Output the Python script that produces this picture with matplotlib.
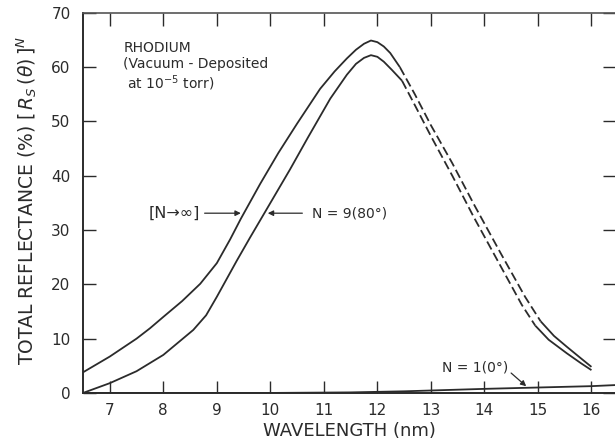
import numpy as np
import matplotlib.pyplot as plt

# ---- data (wavelength nm, reflectance %) ----
# N -> infinity (upper curve)
inf_x_solid = [6.5, 7.0, 7.5, 7.75, 8.0, 8.35, 8.69, 9.0, 9.25, 9.45, 9.81, 10.15, 10.5, 10.93,
               11.2, 11.43, 11.6, 11.75, 11.88, 12.0, 12.12, 12.24, 12.42]
inf_y_solid = [3.8, 6.7, 10.0, 11.9, 14.0, 16.9, 20.1, 23.9, 28.3, 32.1, 38.5, 44.2, 49.6, 56.0,
               59.2, 61.6, 63.2, 64.3, 64.9, 64.6, 63.8, 62.6, 60.0]
inf_x_dash = [12.42, 12.7, 13.0, 13.4, 13.8, 14.3, 14.76, 15.05]
inf_y_dash = [60.0, 55.0, 49.3, 42.3, 34.8, 25.8, 17.7, 13.2]
inf_x_tail = [15.05, 15.3, 15.54, 15.8, 16.0]
inf_y_tail = [13.2, 10.5, 8.5, 6.4, 4.8]

# N = 9 (80 deg) (lower curve)
n9_x_solid = [6.5, 7.0, 7.5, 8.0, 8.56, 8.8, 9.0, 9.37, 9.62, 9.9, 10.37, 10.7, 11.12,
              11.43, 11.6, 11.75, 11.88, 12.0, 12.12, 12.27, 12.46]
n9_y_solid = [0.0, 1.8, 4.0, 7.0, 11.6, 14.3, 17.7, 24.3, 28.6, 33.3, 41.2, 47.0, 54.2,
              58.6, 60.6, 61.7, 62.2, 61.9, 61.0, 59.5, 57.5]
n9_x_dash = [12.46, 12.7, 13.0, 13.4, 13.8, 14.3, 14.7, 14.95]
n9_y_dash = [57.5, 53.0, 47.3, 40.0, 32.4, 23.4, 16.2, 12.4]
n9_x_tail = [14.95, 15.2, 15.54, 15.8, 16.0]
n9_y_tail = [12.4, 9.8, 7.3, 5.5, 4.2]

# N = 1 (0 deg)
n1_x = [6.5, 10.0, 11.5, 12.5, 13.0, 14.0, 15.0, 16.0, 16.45]
n1_y = [0.0, 0.0, 0.1, 0.3, 0.45, 0.75, 1.0, 1.25, 1.45]

x_ticks = [7, 8, 9, 10, 11, 12, 13, 14, 15, 16]
y_ticks = [0, 10, 20, 30, 40, 50, 60, 70]

INK = "#2b2b2b"
LW = 1.3

fig = plt.figure(figsize=(6.15, 4.42), dpi=100)
ax = fig.add_axes([0.135, 0.111, 0.865, 0.860])

for xs, ys in [(inf_x_solid, inf_y_solid), (inf_x_tail, inf_y_tail),
               (n9_x_solid, n9_y_solid), (n9_x_tail, n9_y_tail), (n1_x, n1_y)]:
    ax.plot(xs, ys, color=INK, lw=LW, solid_capstyle="butt", solid_joinstyle="round")
for xs, ys in [(inf_x_dash, inf_y_dash), (n9_x_dash, n9_y_dash)]:
    ax.plot(xs, ys, color=INK, lw=LW, dashes=(5, 2.2))

ax.set_xlim(6.5, 16.44)
ax.set_ylim(0, 70)
ax.set_xticks(x_ticks)
ax.set_yticks(y_ticks)
ax.tick_params(axis="both", direction="in", length=9, width=1.0, color=INK,
               labelcolor=INK, labelsize=11, top=True, right=True)
ax.tick_params(axis="y", pad=9)
ax.tick_params(axis="x", pad=7)
for side in ["left", "bottom"]:
    ax.spines[side].set_linewidth(1.4)
    ax.spines[side].set_color(INK)
ax.spines["top"].set_linewidth(1.2)
ax.spines["top"].set_color("#555555")
ax.spines["right"].set_visible(False)

ax.set_xlabel("WAVELENGTH (nm)", fontsize=13, color=INK, labelpad=3)
ax.set_ylabel(r"TOTAL REFLECTANCE (%) $\left[\,R_S\,(\theta)\,\right]^N$", fontsize=13.5, color=INK)
ax.yaxis.set_label_coords(-0.083, 0.505)

ax.text(7.25, 64.8, "RHODIUM\n(Vacuum - Deposited\n at $\\mathregular{10^{-5}}$ torr)",
        fontsize=10, color=INK, va="top", ha="left", linespacing=1.15)

ax.annotate("", xy=(9.5, 33.1), xytext=(8.72, 33.1),
            arrowprops=dict(arrowstyle="-|>", color=INK, lw=0.9, mutation_scale=8))
ax.text(8.69, 33.1, "[N→∞]", fontsize=11.5, color=INK, ha="right", va="center")
ax.annotate("", xy=(9.9, 33.1), xytext=(10.65, 33.1),
            arrowprops=dict(arrowstyle="-|>", color=INK, lw=0.9, mutation_scale=8))
ax.text(10.78, 33.1, "N = 9(80°)", fontsize=10, color=INK, ha="left", va="center")

ax.annotate("", xy=(14.82, 0.9), xytext=(14.46, 4.0),
            arrowprops=dict(arrowstyle="-|>", color=INK, lw=0.9, mutation_scale=8))
ax.text(14.44, 4.6, "N = 1(0°)", fontsize=10, color=INK, ha="right", va="center")

fig.savefig("out.png", dpi=100)
